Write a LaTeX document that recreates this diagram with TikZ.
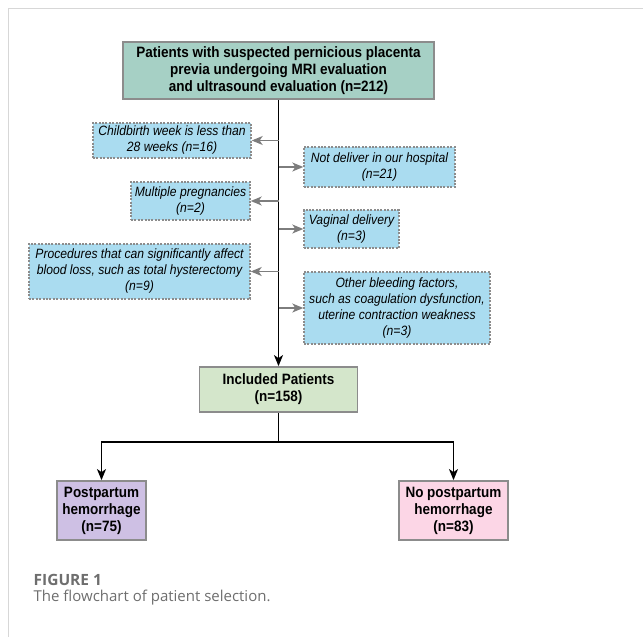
\documentclass[tikz,border=0pt]{standalone}
\usepackage{fontspec}
\setmainfont{Liberation Sans}[FakeStretch=0.9]
\newfontfamily\captionfont{Open Sans}
\usetikzlibrary{arrows.meta}

\definecolor{topgreen}{RGB}{166,208,197}
\definecolor{sideblue}{RGB}{170,220,240}
\definecolor{inclgreen}{RGB}{212,230,203}
\definecolor{pphpurple}{RGB}{206,192,228}
\definecolor{nopink}{RGB}{252,214,230}
\definecolor{boxgray}{RGB}{140,140,140}
\definecolor{arrowgray}{RGB}{125,125,125}
\definecolor{framegray}{RGB}{215,215,215}
\definecolor{captiongray}{RGB}{110,110,110}

\begin{document}
\begin{tikzpicture}[
            x = 1pt, y = -1pt, % pixel units, y down
            > = {Stealth[length = 11pt, width = 9pt, inset = 3pt]}, % arrow head style
            line width = 1.3pt, % line style
            font = \fontsize{15}{17}\selectfont\bfseries
        ]

        \tikzstyle{mainbox}=[
            draw = boxgray,
            line width = 1.8pt,
            align = center,
            inner sep = 0pt
        ]
        \tikzstyle{sidebox}=[
            draw = boxgray,
            dash pattern = on 2pt off 1.4pt,
            line width = 1.4pt,
            fill = sideblue,
            align = center,
            inner sep = 0pt,
            font = \fontsize{13.5}{16}\selectfont\itshape
        ]
        \tikzstyle{sidearrow}=[->, draw = arrowgray, line width = 1.3pt]

        \useasboundingbox (0,0) rectangle (643,637);
        \draw[framegray, line width = 0.8pt] (8,637) -- (8,8) -- (643,8);

        % main column
        \node[mainbox, fill = topgreen, minimum width = 311pt, minimum height = 57pt] (patients) at (278.5,70.5)
            {Patients with suspected pernicious placenta\\previa undergoing MRI evaluation\\and ultrasound evaluation (n=212)};
        \node[mainbox, fill = inclgreen, minimum width = 158pt, minimum height = 45pt] (included) at (278.5,389.5)
            {Included Patients\\(n=158)};
        \node[mainbox, fill = pphpurple, minimum width = 89pt, minimum height = 59pt] (pph) at (101.5,510.5)
            {Postpartum\\hemorrhage\\(n=75)};
        \node[mainbox, fill = nopink, minimum width = 109pt, minimum height = 59pt] (nopph) at (453.5,510.5)
            {No postpartum\\hemorrhage\\(n=83)};

        % exclusions
        \node[sidebox, minimum width = 158pt, minimum height = 35pt] (weeks) at (172,140.5)
            {Childbirth week is less than\\28 weeks (n=16)};
        \node[sidebox, minimum width = 151pt, minimum height = 40pt] (hospital) at (379.5,167)
            {Not deliver in our hospital\\(n=21)};
        \node[sidebox, minimum width = 119pt, minimum height = 38pt] (multiple) at (190.5,201)
            {Multiple pregnancies\\(n=2)};
        \node[sidebox, minimum width = 95pt, minimum height = 38pt] (vaginal) at (351.5,229)
            {Vaginal delivery\\(n=3)};
        \node[sidebox, minimum width = 221pt, minimum height = 55pt] (procedures) at (139.5,271.5)
            {Procedures that can significantly affect\\blood loss, such as total hysterectomy\\(n=9)};
        \node[sidebox, minimum width = 186pt, minimum height = 72pt] (bleeding) at (397,308)
            {Other bleeding factors,\\such as coagulation dysfunction,\\uterine contraction weakness\\(n=3)};

        \coordinate (split) at (278.5,442);

        \draw[->] (patients) -- (included);
        \foreach \n in {weeks, hospital, multiple, vaginal, procedures, bleeding}
            \draw[sidearrow] (patients.south |- \n) -- (\n);
        \draw (included) -- (split);
        \draw[->] (split) -| (pph);
        \draw[->] (split) -| (nopph);

        % caption
        \node[anchor = base west, inner sep = 0pt, text = captiongray, font = \captionfont\fontsize{15.5}{18}\selectfont\bfseries] (figlabel) at (33,585) {FIGURE 1};
        \node[anchor = base west, inner sep = 0pt, text = captiongray, font = \captionfont\fontsize{15}{18}\selectfont] (figtext) at (33,601) {The flowchart of patient selection.};
    \end{tikzpicture}
\end{document}
